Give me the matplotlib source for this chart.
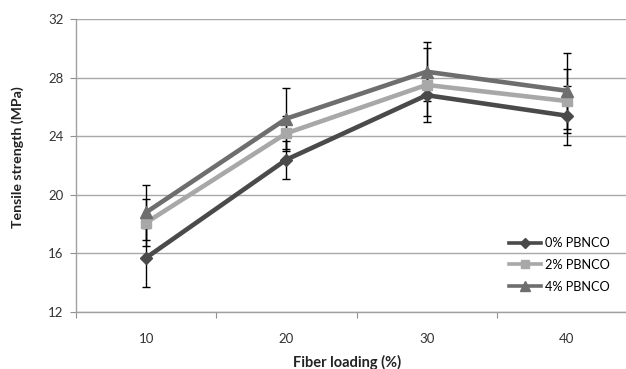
import numpy as np
import matplotlib.pyplot as plt

plt.rcParams['font.family'] = ['Lato', 'DejaVu Sans']

# Tensile strength vs fiber loading
loading = ['10', '20', '30', '40']
pbnco_0 = [15.7, 22.4, 26.8, 25.4]
pbnco_2 = [18.1, 24.2, 27.5, 26.4]
pbnco_4 = [18.8, 25.2, 28.4, 27.1]
err_0 = [2.0, 1.3, 1.4, 2.0]
err_2 = [1.6, 1.2, 2.5, 2.2]
err_4 = [1.9, 2.1, 2.0, 2.6]

series = [
    ('0% PBNCO', pbnco_0, err_0, '#4a4a4a', 'D', 6.5),
    ('2% PBNCO', pbnco_2, err_2, '#a8a8a8', 's', 7.5),
    ('4% PBNCO', pbnco_4, err_4, '#6e6e6e', '^', 8.5),
]

fig = plt.figure(figsize=(6.26, 3.69), dpi=100)
ax = fig.add_axes([76 / 626, 57 / 369, 561 / 626, 293 / 369])
x = np.arange(len(loading))

for label, vals, errs, col, mk, ms in series:
    ax.errorbar(x, vals, yerr=errs, fmt='none', ecolor='black',
                elinewidth=1.0, capsize=3, capthick=1.0, zorder=3)
for label, vals, errs, col, mk, ms in series:
    ax.plot(x, vals, color=col, lw=3.3, marker=mk, markersize=ms,
            markerfacecolor=col, markeredgecolor=col, label=label,
            zorder=4, clip_on=False)

ax.set_ylim(12, 32)
ax.set_yticks(np.arange(12, 33, 4))
ax.set_xlim(-0.5, 3.5)
ax.set_xticks(np.arange(-0.5, 3.6, 1.0))
ax.set_xticklabels([])
ax.set_xticks(x, minor=True)
ax.set_xticklabels(loading, minor=True)
ax.tick_params(axis='x', which='minor', length=0, pad=15, labelsize=9.5,
               colors='#333333')
ax.tick_params(axis='x', which='major', length=4, color='#909090')
ax.tick_params(axis='y', length=4, color='#909090', labelsize=9.5,
               labelcolor='#333333', pad=5)

ax.grid(axis='y', color='#a8a8a8', lw=1.0)
ax.set_axisbelow(True)
for side in ('top', 'right'):
    ax.spines[side].set_visible(False)
for side in ('left', 'bottom'):
    ax.spines[side].set_color('#a0a0a0')
    ax.spines[side].set_linewidth(1.0)

fig.text(347 / 626, 7 / 369, 'Fiber loading (%)', ha='center', va='center',
         fontsize=10.5, fontweight='bold', color='#222222')
fig.text(18 / 626, 1 - 157 / 369, 'Tensile strength (MPa)', ha='center',
         va='center', rotation=90, fontsize=10.2, fontweight='bold',
         color='#222222')

ax.legend(loc='upper left', bbox_to_anchor=(509 / 626, 1 - 237 / 369),
          bbox_transform=fig.transFigure, frameon=False, fontsize=9.2,
          handlelength=2.5, handletextpad=0.3, labelspacing=0.78,
          borderpad=0, borderaxespad=0, markerscale=0.8)
for h in ax.get_legend().legend_handles:
    h.set_linewidth(2.6)

fig.savefig('out.png', dpi=100)
